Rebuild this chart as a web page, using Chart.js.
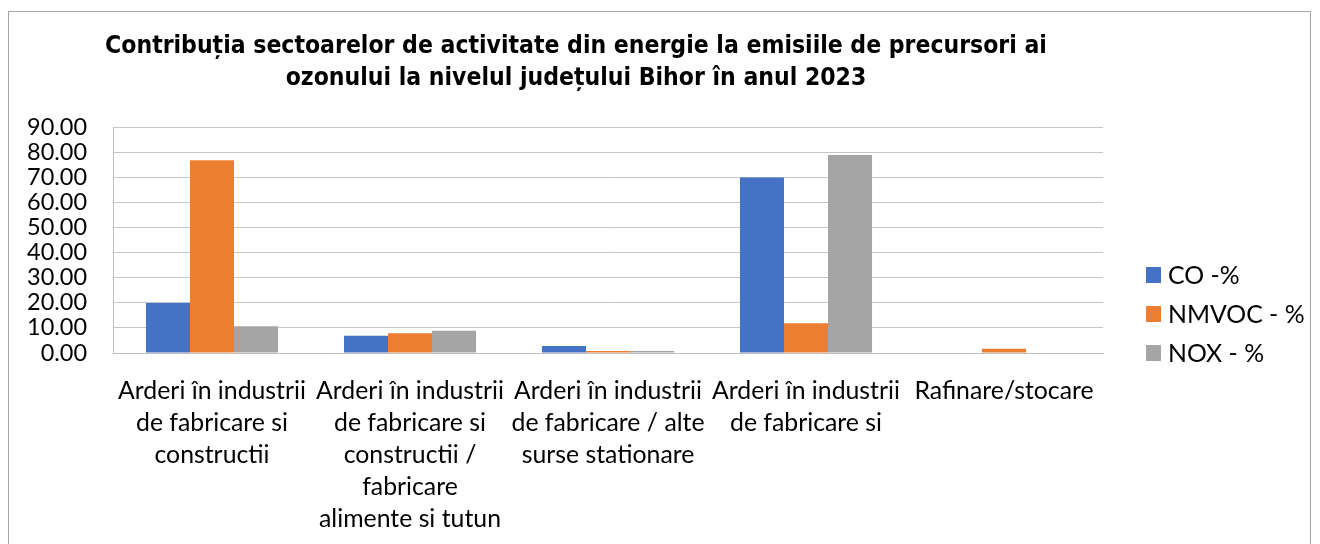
<!DOCTYPE html>
<html><head><meta charset="utf-8">
<script src="https://cdn.jsdelivr.net/npm/chart.js@4.4.0/dist/chart.umd.min.js"></script>
<style>html,body{margin:0;padding:0;background:#fff}#wrap{position:relative;width:1320px;height:544px}</style>
</head><body><div id="wrap"><canvas id="c" width="1320" height="544"></canvas></div>
<script>
const titleLines = ["Contribuția sectoarelor de activitate din energie la emisiile de precursori ai", "ozonului la nivelul județului Bihor în anul 2023"];
const categories = [
  ["Arderi în industrii", "de fabricare si", "constructii"],
  ["Arderi în industrii", "de fabricare si", "constructii /", "fabricare", "alimente si tutun"],
  ["Arderi în industrii", "de fabricare / alte", "surse stationare"],
  ["Arderi în industrii", "de fabricare si"],
  ["Rafinare/stocare"]
];
const seriesNames = ["CO -%", "NMVOC - %", "NOX - %"];
const coValues = [19.9, 6.9, 2.8, 69.9, 0];
const nmvocValues = [76.8, 7.9, 0.8, 11.8, 1.7];
const noxValues = [10.7, 8.9, 0.8, 78.8, 0];
const yMin = 0, yMax = 90, yStep = 10;
const seriesColors = ["#4472C4", "#ED7D31", "#A5A5A5"];

const mctx = document.createElement('canvas').getContext('2d');
function fitSize(family, weight, text, target) {
  mctx.font = weight + ' 100px ' + family;
  return 100 * target / mctx.measureText(text).width;
}
const labelFamily = "Lato, 'Open Sans', sans-serif";
const labelSize = fitSize(labelFamily, 'normal', 'Arderi în industrii', 188);
const tickSize = fitSize(labelFamily, 'normal', '90.00', 60);
const titleFamily = "'DejaVu Sans Condensed', 'DejaVu Sans', sans-serif";
const titleSize = fitSize(titleFamily, 'bold', titleLines[0], 942);

const frame = {
  id: 'frame',
  beforeDraw(chart) {
    const ctx = chart.ctx;
    ctx.save();
    ctx.fillStyle = '#fff';
    ctx.fillRect(0, 0, chart.width, chart.height);
    ctx.strokeStyle = '#a6a6a6';
    ctx.lineWidth = 1;
    ctx.strokeRect(8.5, 11.5, 1302, 600);
    ctx.restore();
  }
};
const titlePlugin = {
  id: 'titleP',
  afterDraw(chart) {
    const ctx = chart.ctx;
    ctx.save();
    ctx.fillStyle = '#000';
    ctx.font = 'bold ' + titleSize + 'px ' + titleFamily;
    ctx.textAlign = 'center';
    ctx.textBaseline = 'alphabetic';
    ctx.fillText(titleLines[0], 576, 53);
    ctx.fillText(titleLines[1], 576, 85);
    ctx.restore();
  }
};
const legendPlugin = {
  id: 'legendP',
  afterDraw(chart) {
    const ctx = chart.ctx;
    ctx.save();
    ctx.font = labelSize + 'px ' + labelFamily;
    ctx.textBaseline = 'middle';
    ctx.textAlign = 'left';
    chart.data.datasets.forEach((ds, i) => {
      const y = 275 + i * 39;
      ctx.fillStyle = ds.backgroundColor;
      ctx.fillRect(1146, y - 8, 15, 16);
      ctx.fillStyle = '#000';
      ctx.fillText(ds.label, 1168, y + 1);
    });
    ctx.restore();
  }
};

const datasets = [coValues, nmvocValues, noxValues].map((vals, i) => ({
  label: seriesNames[i],
  data: vals,
  backgroundColor: seriesColors[i],
  borderWidth: 0,
  categoryPercentage: 0.667,
  barPercentage: 1.0
}));

new Chart(document.getElementById('c'), {
  type: 'bar',
  data: { labels: categories, datasets },
  plugins: [frame, titlePlugin, legendPlugin],
  options: {
    responsive: false,
    animation: false,
    devicePixelRatio: 1,
    layout: { padding: { top: 127, right: 217, bottom: 0, left: 0 } },
    plugins: { legend: { display: false }, title: { display: false }, tooltip: { enabled: false } },
    scales: {
      x: {
        grid: { display: false, drawTicks: false },
        border: { display: true, color: '#bfbfbf', width: 1 },
        ticks: {
          color: '#000', autoSkip: false, maxRotation: 0, minRotation: 0, padding: 22,
          font: { family: labelFamily, size: labelSize, lineHeight: 32 / labelSize }
        },
        afterFit(s) { s.height = 191; }
      },
      y: {
        min: yMin, max: yMax,
        grid: { color: '#c6c6c6', drawTicks: false, lineWidth: 1 },
        border: { display: true, color: '#bfbfbf', width: 1 },
        ticks: {
          stepSize: yStep, color: '#000', padding: 26, autoSkip: false,
          callback: v => Number(v).toFixed(2),
          font: { family: labelFamily, size: tickSize, lineHeight: 1.0 }
        },
        afterFit(s) { s.width = 113; }
      }
    }
  }
});
</script></body></html>
